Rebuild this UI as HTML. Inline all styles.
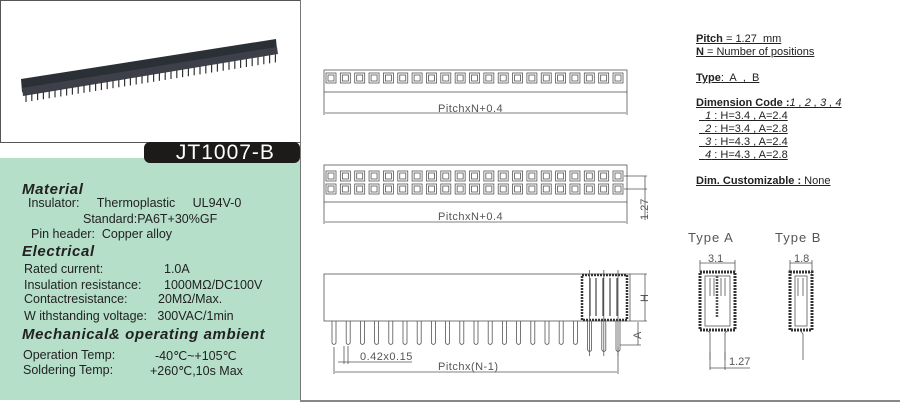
<!DOCTYPE html>
<html><head><meta charset="utf-8"><style>
body{margin:0;width:900px;height:402px;overflow:hidden;background:#fff;font-family:"Liberation Sans",sans-serif;position:relative}
.g{position:absolute;left:0;top:158px;width:300px;height:242px;background:#b5dfc9}
.t{position:absolute;white-space:nowrap;font-size:12.5px;color:#222}
.h{position:absolute;font-weight:bold;font-style:italic;font-size:15px;color:#222;letter-spacing:0.6px}
.r{position:absolute;white-space:nowrap;font-size:11px;color:#222;text-decoration:underline}
</style></head><body>
<div style="position:absolute;left:0;top:0;width:299px;height:141px;border:1px solid #555;border-top:1px solid #555"></div>
<div style="position:absolute;left:300px;top:0;width:1px;height:402px;background:#777"></div>
<div class="g"></div>
<div style="position:absolute;left:300px;top:400px;width:600px;height:2px;background:#888"></div>
<div style="position:absolute;left:144px;top:142px;width:156px;height:21px;background:#1d1a1a;border-radius:6px;color:#fff;font-size:21px;line-height:21px;text-align:center;letter-spacing:1px">&nbsp;JT1007-B</div>
<svg style="position:absolute;left:0;top:0" width="300" height="140">
<polygon points="21,79 276,39 277,50 22,92" fill="#2b2f36"/>
<polygon points="22,88 277,47 278,54 23,96" fill="#3d4048"/>
<g id="pins" stroke="#333" stroke-width="1.2"></g>
</svg>
<div class="h" style="left:22px;top:181px">Material</div>
<div class="t" style="left:28px;top:196px">Insulator:&nbsp;&nbsp;&nbsp;&nbsp;&nbsp;Thermoplastic&nbsp;&nbsp;&nbsp;&nbsp;&nbsp;UL94V-0</div>
<div class="t" style="left:83px;top:212px">Standard:PA6T+30%GF</div>
<div class="t" style="left:31px;top:227px">Pin header:&nbsp;&nbsp;Copper alloy</div>
<div class="h" style="left:22px;top:243px">Electrical</div>
<div class="t" style="left:24px;top:262px">Rated current:</div><div class="t" style="left:164px;top:262px">1.0A</div>
<div class="t" style="left:24px;top:278px">Insulation resistance:</div><div class="t" style="left:164px;top:278px">1000MΩ/DC100V</div>
<div class="t" style="left:24px;top:292px">Contactresistance:</div><div class="t" style="left:158px;top:292px">20MΩ/Max.</div>
<div class="t" style="left:24px;top:309px">W ithstanding voltage:&nbsp;&nbsp;&nbsp;300VAC/1min</div>
<div class="h" style="left:22px;top:326px">Mechanical&amp; operating ambient</div>
<div class="t" style="left:23px;top:348px">Operation Temp:</div><div class="t" style="left:155px;top:348px">-40℃~+105℃</div>
<div class="t" style="left:23px;top:363px">Soldering Temp:</div><div class="t" style="left:150px;top:363px">+260℃,10s Max</div>

<div class="r" style="left:696px;top:33px"><b>Pitch</b> = 1.27&nbsp; mm</div>
<div class="r" style="left:696px;top:46px"><b>N</b> = Number of positions</div>
<div class="r" style="left:696px;top:72px"><b>Type</b>:&nbsp; A&nbsp; ,&nbsp; B</div>
<div class="r" style="left:696px;top:97px"><b>Dimension Code :</b><i>1 , 2 , 3 , 4</i></div>
<div class="r" style="left:699px;top:110px">&nbsp;&nbsp;<i>1</i> : H=3.4 , A=2.4</div>
<div class="r" style="left:699px;top:123px">&nbsp;&nbsp;<i>2</i> : H=3.4 , A=2.8</div>
<div class="r" style="left:699px;top:136px">&nbsp;&nbsp;<i>3</i> : H=4.3 , A=2.4</div>
<div class="r" style="left:699px;top:149px">&nbsp;&nbsp;<i>4</i> : H=4.3 , A=2.8</div>
<div class="r" style="left:696px;top:175px"><b>Dim. Customizable :</b> None</div>

<svg style="position:absolute;left:0;top:0" width="900" height="402" font-family="Liberation Sans, sans-serif" fill="none" stroke="#555" stroke-width="0.8">
<rect x="324" y="70" width="303" height="22"/>
<line x1="324" y1="92" x2="324" y2="115"/><line x1="627" y1="92" x2="627" y2="115"/>
<line x1="325" y1="113" x2="626" y2="113"/>
<text x="438" y="112" fill="#555" stroke="none" font-size="11" letter-spacing="0.5">PitchxN+0.4</text>
<rect x="324" y="165" width="303" height="37"/>
<line x1="324" y1="202" x2="324" y2="224"/><line x1="627" y1="202" x2="627" y2="224"/>
<line x1="325" y1="222" x2="626" y2="222"/>
<text x="438" y="220" fill="#555" stroke="none" font-size="11" letter-spacing="0.5">PitchxN+0.4</text>
<line x1="624" y1="176" x2="647" y2="176"/><line x1="624" y1="189" x2="647" y2="189"/>
<line x1="645" y1="176" x2="645" y2="220"/>
<text x="0" y="0" fill="#555" stroke="none" font-size="11" transform="translate(648,220) rotate(-90)">1.27</text>
<g id="sq"></g>
<rect x="324" y="274" width="306" height="47"/>
<rect x="582" y="275" width="45" height="45" stroke="#333" stroke-dasharray="2 1" stroke-width="2.5"/>
<path d="M590 278v38M603 278v38M617 278v38M596 278v38M610 278v38" stroke="#444" stroke-width="1.2"/>
<g id="side"></g>
<line x1="630" y1="274" x2="647" y2="274"/><line x1="630" y1="321" x2="647" y2="321"/>
<line x1="645" y1="274" x2="645" y2="321"/>
<text x="0" y="0" fill="#555" stroke="none" font-size="11" transform="translate(648,302) rotate(-90)">H</text>
<line x1="620" y1="345" x2="641" y2="345"/><line x1="638" y1="322" x2="638" y2="345"/>
<text x="0" y="0" fill="#555" stroke="none" font-size="11" transform="translate(641,339) rotate(-90)">A</text>
<line x1="334" y1="347" x2="334" y2="374"/><line x1="618" y1="347" x2="618" y2="374"/>
<line x1="335" y1="372" x2="617" y2="372"/>
<text x="438" y="370" fill="#555" stroke="none" font-size="11" letter-spacing="0.5">Pitchx(N-1)</text>
<line x1="344" y1="346" x2="344" y2="364"/><line x1="348" y1="346" x2="348" y2="364"/>
<line x1="338" y1="362" x2="412" y2="362"/>
<text x="360" y="360" fill="#555" stroke="none" font-size="11" letter-spacing="0.5">0.42x0.15</text>
<text x="688" y="242" fill="#555" stroke="none" font-size="13" letter-spacing="1">Type A</text>
<text x="775" y="242" fill="#555" stroke="none" font-size="13" letter-spacing="1">Type B</text>
<line x1="700" y1="263" x2="735" y2="263"/><line x1="700" y1="260" x2="700" y2="272"/><line x1="735" y1="260" x2="735" y2="272"/>
<text x="708" y="262" fill="#555" stroke="none" font-size="11">3.1</text>
<rect x="700" y="272" width="35" height="58" stroke="#333" stroke-dasharray="2 1" stroke-width="3"/>
<rect x="705" y="276" width="25" height="50"/>
<line x1="717" y1="276" x2="717" y2="318" stroke-width="2.5" stroke-dasharray="2 1"/>
<path d="M710 278v18M714 278v18M721 278v18M725 278v18"/>
<path d="M707 330l3 3v27M728 330l-3 3v27"/>
<line x1="710" y1="352" x2="710" y2="370"/><line x1="725" y1="352" x2="725" y2="370"/>
<line x1="710" y1="368" x2="750" y2="368"/>
<text x="729" y="365" fill="#555" stroke="none" font-size="11">1.27</text>
<line x1="790" y1="263" x2="812" y2="263"/><line x1="790" y1="260" x2="790" y2="272"/><line x1="812" y1="260" x2="812" y2="272"/>
<text x="794" y="262" fill="#555" stroke="none" font-size="11">1.8</text>
<rect x="790" y="272" width="22" height="58" stroke="#333" stroke-dasharray="2 1" stroke-width="3"/>
<rect x="795" y="276" width="12" height="50"/>
<path d="M798 278v18M803 278v18"/>
<path d="M800 330l3 4v26"/>
</svg>
<script>
var sq=document.getElementById('sq'),s='';
function box(x,y){return '<rect x="'+x+'" y="'+y+'" width="10" height="10"/><rect x="'+(x+2)+'" y="'+(y+2)+'" width="6" height="6"/>';}
for(var i=0;i<21;i++){var x=326+i*14.35;s+=box(x,73);s+=box(x,171);s+=box(x,184);}
sq.innerHTML=s;
var sd='';for(var i=0;i<21;i++){var x=334+i*14.2;var y2=i>=18?352:345;
sd+='<path d="M'+(x-2)+' 321V'+(y2-2)+'q2 3 4 0V321"/>';if(i>=18)sd+='<line x1="'+x+'" y1="270" x2="'+x+'" y2="356"/>';}
document.getElementById('side').innerHTML=sd;
var p='';for(var i=0;i<44;i++){var x=26+i*5.8,y=94-i*0.92;p+='<line x1="'+x+'" y1="'+y+'" x2="'+x+'" y2="'+(y+8)+'"/>';}
document.getElementById('pins').innerHTML=p;
</script>
</body></html>
